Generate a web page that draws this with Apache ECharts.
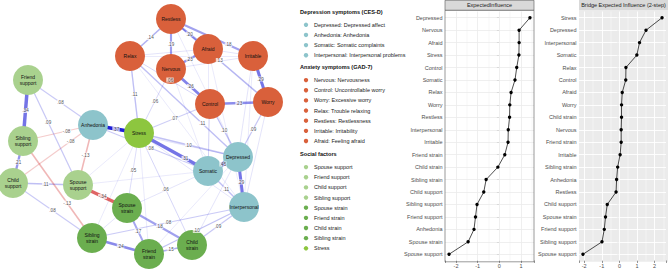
<!DOCTYPE html>
<html><head><meta charset="utf-8">
<script src="https://cdn.jsdelivr.net/npm/echarts@6/dist/echarts.min.js"></script>
<style>html,body{margin:0;padding:0;background:#fff}#c{width:669px;height:271px}</style>
</head><body><div id="c"></div>
<script>
// ---------------- DATA ----------------
// Network nodes
const nodeNames = ['Restless','Relax','Afraid','Irritable','Nervous','Control','Worry',
  'Depressed','Anhedonia','Somatic','Interpersonal',
  'Friend support','Sibling support','Child support','Spouse support',
  'Spouse strain','Sibling strain','Friend strain','Child strain','Stress'];
const nodeGroups = ['anx','anx','anx','anx','anx','anx','anx',
  'dep','dep','dep','dep','sup','sup','sup','sup','str','str','str','str','stress'];
// Network edges (partial correlations)
const edgeFrom = ['Restless','Restless','Restless','Restless','Restless','Nervous','Relax','Afraid','Irritable','Nervous','Control','Relax','Nervous','Relax',
  'Relax','Nervous','Stress','Relax','Control','Worry','Nervous','Afraid','Afraid','Irritable','Irritable','Worry','Control','Restless','Relax',
  'Depressed','Depressed','Somatic','Anhedonia','Anhedonia','Anhedonia',
  'Stress','Stress','Stress','Stress','Stress','Stress','Stress',
  'Friend support','Friend support','Friend support','Anhedonia','Anhedonia','Anhedonia','Sibling support','Child support','Child support','Sibling support','Spouse support','Spouse support','Spouse support',
  'Spouse strain','Spouse strain','Sibling strain','Friend strain','Spouse strain','Interpersonal','Interpersonal','Interpersonal','Child strain','Friend strain','Spouse strain'];
const edgeTo = ['Relax','Nervous','Afraid','Irritable','Worry','Afraid','Afraid','Irritable','Worry','Control','Worry','Control','Irritable','Irritable',
  'Stress','Stress','Control','Depressed','Depressed','Depressed','Somatic','Somatic','Interpersonal','Depressed','Interpersonal','Interpersonal','Somatic','Depressed','Interpersonal',
  'Somatic','Interpersonal','Interpersonal','Stress','Somatic','Depressed',
  'Depressed','Somatic','Spouse strain','Child strain','Interpersonal','Sibling strain','Friend strain',
  'Sibling support','Spouse support','Anhedonia','Sibling support','Child support','Spouse support','Child support','Spouse support','Sibling strain','Sibling strain','Spouse strain','Somatic','Stress',
  'Child strain','Friend strain','Friend strain','Child strain','Sibling strain','Sibling strain','Friend strain','Child strain','Depressed','Depressed','Somatic'];
const edgeWeight = [0.14,0.19,0.20,0.18,0.13,0.23,0.04,0.04,0.29,0.26,0.23,0.06,0.04,0.03,
  0.11,0.06,0.07,0.11,0.10,0.09,0.03,0.03,0.03,0.04,0.03,0.04,0.04,0.03,0.03,
  0.45,0.29,0.11,0.37,0.08,0.04,
  0.10,0.31,0.05,0.06,0.04,0.03,0.03,
  0.34,0.09,0.08,-0.08,-0.08,-0.13,0.21,0.11,0.08,-0.13,-0.34,0.03,0.03,
  0.18,0.17,0.24,0.15,0.04,0.08,0.10,0.09,0.04,0.03,0.04];

// Centrality panels
const eiCategories = ['Depressed','Nervous','Afraid','Stress','Control','Somatic','Relax','Worry','Restless','Interpersonal',
  'Irritable','Friend strain','Child strain','Sibling strain','Child support','Sibling support','Friend support','Anhedonia','Spouse strain','Spouse support'];
const eiValues = [1.41,0.91,0.91,0.90,0.80,0.72,0.54,0.48,0.47,0.41,0.40,0.25,-0.07,-0.61,-0.72,-1.03,-1.10,-1.17,-1.44,-2.32];
const beiCategories = ['Stress','Depressed','Interpersonal','Somatic','Relax','Control','Afraid','Worry','Child strain','Nervous',
  'Friend strain','Irritable','Sibling strain','Anhedonia','Restless','Child support','Spouse strain','Friend support','Sibling support','Spouse support'];
const beiValues = [2.42,1.51,1.14,0.99,0.37,0.36,0.16,0.12,0.12,0.10,0.10,0.04,-0.10,-0.16,-0.19,-0.69,-0.79,-0.86,-0.99,-2.07];
const majorBreaks1 = [-2,-1,0,1];
const minorBreaks1 = [-1.5,-0.5,0.5,1.5];
const majorBreaks2 = [-2,-1,0,1,2];
const minorBreaks2 = [-1.5,-0.5,0.5,1.5,2.5];

// Legend texts
const legendTitles = ['Depression symptoms (CES-D)','Anxiety symptoms (GAD-7)','Social factors'];
const depLegend = ['Depressed: Depressed affect','Anhedonia: Anhedonia','Somatic: Somatic complaints','Interpersonal: Interpersonal problems'];
const anxLegend = ['Nervous: Nervousness','Control: Uncontrollable worry','Worry: Excessive worry','Relax: Trouble relaxing','Restless: Restlessness','Irritable: Irritability','Afraid: Feeling afraid'];
const socLegend = ['Spouse support','Friend support','Child support','Sibling support','Spouse strain','Friend strain','Child strain','Sibling strain','Stress'];
const socLegendGroups = ['sup','sup','sup','sup','str','str','str','str','stress'];

// ---------------- LAYOUT / STYLE ----------------
const nodeLayoutX = [171,130,208,253,171,210,268, 238,93,208,244, 28,23,13,78, 127,92,149,192, 139];
const nodeLayoutY = [19,56,49,56,69,104,102, 157,125,171,207, 80,141,183,185, 208,238,254,245, 133];
// label position along each edge (default 0.5)
const edgeLabelAt = {'Relax|Depressed':0.67,'Stress|Somatic':0.67,'Restless|Irritable':0.7,'Sibling support|Sibling strain':0.64,
  'Friend support|Spouse support':0.4,'Anhedonia|Sibling support':0.38,'Anhedonia|Child support':0.28};
const groupColor = {anx:'#D9603B', dep:'#8DC4CB', sup:'#A9D18E', str:'#6BAE4F', stress:'#8DC63F'};
const FONT = '"Liberation Sans", Arial, sans-serif';

function fmtW(w){ const s = Math.abs(w).toFixed(2).replace(/^0/,''); return w < 0 ? '-' + s : s; }

const nodeIndex = n => nodeNames.indexOf(n);
const nodes = nodeNames.map((n,i)=>({name:n, value:[nodeLayoutX[i], nodeLayoutY[i]],
  itemStyle:{color:groupColor[nodeGroups[i]]}}));
const edgeIdx = edgeWeight.map((w,i)=>i).sort((a,b)=>Math.abs(edgeWeight[a])-Math.abs(edgeWeight[b]));
const links = edgeIdx.map(k=>{
  const w = edgeWeight[k], a = Math.abs(w);
  return {source:edgeFrom[k], target:edgeTo[k], value:w,
    lineStyle:{width:0.4 + 9*a, color: w>0 ? 'rgb(30,30,215)' : 'rgb(210,35,35)',
      opacity: a >= 0.35 ? 1 : Math.min(w>0 ? 0.62 : 0.85, 0.09 + 1.8*a), curveness:0}};
});
const edgeLabels = [];
edgeWeight.forEach((w,k)=>{
  if (Math.abs(w) < 0.05) return;
  const i = nodeIndex(edgeFrom[k]), j = nodeIndex(edgeTo[k]);
  const t = edgeLabelAt[edgeFrom[k]+'|'+edgeTo[k]] ?? 0.5;
  edgeLabels.push({name: fmtW(w), value:[nodeLayoutX[i] + t*(nodeLayoutX[j]-nodeLayoutX[i]), nodeLayoutY[i] + t*(nodeLayoutY[j]-nodeLayoutY[i])]});
});

function expandRange(vals){ const mn=Math.min(...vals), mx=Math.max(...vals), r=mx-mn; return [mn-0.05*r, mx+0.05*r]; }
const r1 = expandRange(eiValues), r2 = expandRange(beiValues);

// Legend graphics
const graphics = [];
const titleY = [12, 67.3, 154.3];
const groupsItems = [depLegend, anxLegend, socLegend];
const groupsCols = [depLegend.map(()=>groupColor.dep), anxLegend.map(()=>groupColor.anx), socLegendGroups.map(g=>groupColor[g])];
legendTitles.forEach((t,g)=>{
  graphics.push({type:'text', x:300, y:titleY[g], style:{text:t, fontSize:5.6, fontWeight:'bold', fontFamily:FONT, fill:'#111', verticalAlign:'middle', align:'left'}});
  groupsItems[g].forEach((it,i)=>{
    const y = titleY[g] + 12.8 + i*10.15;
    graphics.push({type:'circle', shape:{cx:306, cy:y, r:2.2}, style:{fill:groupsCols[g][i]}});
    graphics.push({type:'text', x:314, y:y, style:{text:it, fontSize:5.5, fontFamily:FONT, fill:'#222', verticalAlign:'middle', align:'left'}});
  });
});
// panel backgrounds, borders and strips
const P1 = {x:445, y:10.2, w:89, h:251.6}, P2 = {x:579, y:10.2, w:89, h:251.6};
graphics.push({type:'rect', z:-10, shape:{x:P2.x, y:P2.y, width:P2.w, height:P2.h}, style:{fill:'#EBEBEB'}});
graphics.push({type:'rect', z:10, shape:{x:P1.x, y:P1.y, width:P1.w, height:P1.h}, style:{fill:'none', stroke:'#555', lineWidth:0.6}});
graphics.push({type:'rect', z:10, shape:{x:P1.x, y:0.3, width:P1.w, height:9.9}, style:{fill:'#D9D9D9', stroke:'#555', lineWidth:0.6}});
graphics.push({type:'text', z:11, x:P1.x+P1.w/2, y:5.3, style:{text:'ExpectedInfluence', fontSize:5.5, fontFamily:FONT, fill:'#1A1A1A', align:'center', verticalAlign:'middle'}});
graphics.push({type:'rect', z:10, shape:{x:P2.x, y:0, width:P2.w, height:10.2}, style:{fill:'#D9D9D9'}});
graphics.push({type:'text', z:11, x:P2.x+P2.w/2, y:5.3, style:{text:'Bridge Expected Influence (2-step)', fontSize:5.5, fontFamily:FONT, fill:'#1A1A1A', align:'center', verticalAlign:'middle'}});

function xAxisCfg(gi, r){
  return {gridIndex:gi, type:'value', min:r[0], max:r[1], splitLine:{show:false}, axisLine:{show:false},
    axisTick:{show:true, length:2.5, lineStyle:{color:'#333', width:0.5}},
    axisLabel:{fontSize:5.5, fontFamily:FONT, color:'#4D4D4D', margin:2.5, formatter:v=>Number.isInteger(v)?String(v):''}};
}
function yAxisCfg(gi, cats){
  return {gridIndex:gi, type:'category', data:cats, inverse:true, axisLine:{show:false}, splitLine:{show:false},
    axisTick:{show:true, alignWithLabel:true, length:2.5, lineStyle:{color:'#333', width:0.5}},
    axisLabel:{fontSize:5.5, fontFamily:FONT, color:'#4D4D4D', margin:2.5, interval:0}};
}
function gridLines(gi, cats, major, minor, color, wMaj, wMin){
  const r = gi===0 ? r1 : r2;
  return [
    {type:'line', xAxisIndex:gi, yAxisIndex:gi, data:[], z:1, silent:true,
      markLine:{silent:true, symbol:'none', animation:false, label:{show:false}, lineStyle:{color:color, width:wMin, type:'solid'},
        data: minor.filter(v=>v>r[0] && v<r[1]).map(v=>({xAxis:v}))}},
    {type:'line', xAxisIndex:gi, yAxisIndex:gi, data:[], z:1, silent:true,
      markLine:{silent:true, symbol:'none', animation:false, label:{show:false}, lineStyle:{color:color, width:wMaj, type:'solid'},
        data: cats.map(c=>({yAxis:c})).concat(major.map(v=>({xAxis:v})))}}
  ];
}
function pointSeries(gi, cats, vals){
  return {type:'line', xAxisIndex:gi, yAxisIndex:gi, z:5, data:cats.map((c,i)=>[vals[i], c]),
    symbol:'circle', symbolSize:3.4, itemStyle:{color:'#000'}, lineStyle:{color:'#000', width:0.7}};
}

const option = {
  animation:false,
  textStyle:{fontFamily:FONT},
  grid:[
    {left:445, top:11.5, width:89, height:249},
    {left:579, top:11.5, width:89, height:249},
    {left:0, top:0, width:669, height:271}
  ],
  xAxis:[xAxisCfg(0, r1), xAxisCfg(1, r2), {gridIndex:2, type:'value', min:0, max:669, show:false}],
  yAxis:[yAxisCfg(0, eiCategories), yAxisCfg(1, beiCategories), {gridIndex:2, type:'value', min:0, max:271, inverse:true, show:false}],
  graphic: graphics,
  series:[
    ...gridLines(0, eiCategories, majorBreaks1, minorBreaks1, '#EBEBEB', 0.8, 0.4),
    ...gridLines(1, beiCategories, majorBreaks2, minorBreaks2, '#FFFFFF', 0.9, 0.45),
    pointSeries(0, eiCategories, eiValues),
    pointSeries(1, beiCategories, beiValues),
    {type:'graph', layout:'none', coordinateSystem:'cartesian2d', xAxisIndex:2, yAxisIndex:2, z:2,
      symbol:'circle', symbolSize:30, data:nodes, links:links, roam:false, silent:true,
      label:{show:true, position:'inside', fontSize:5, fontFamily:FONT, color:'#111', lineHeight:5.6,
        formatter:p=>p.name.replace(' ','\n')},
      emphasis:{disabled:true}},
    {type:'scatter', xAxisIndex:2, yAxisIndex:2, z:3, symbolSize:0, silent:true, data:edgeLabels,
      label:{show:true, position:'inside', formatter:p=>p.name, fontSize:4.6, fontFamily:FONT, color:'#222',
        backgroundColor:'rgba(255,255,255,0.9)', padding:[0,0.5]}}
  ]
};
const chart = echarts.init(document.getElementById('c'), null, {renderer:'svg', width:669, height:271});
chart.setOption(option);
</script>
</body></html>
